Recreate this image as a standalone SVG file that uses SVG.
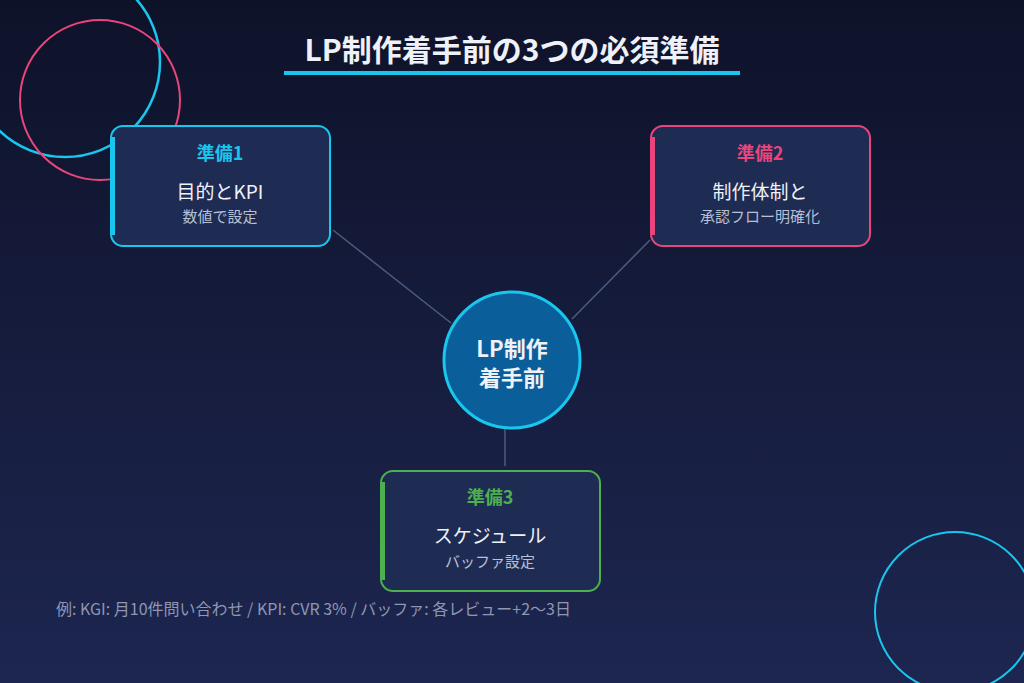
<svg xmlns="http://www.w3.org/2000/svg" width="1024" height="683" viewBox="0 0 1024 683">
<defs>
<linearGradient id="bg" x1="0" y1="0" x2="0" y2="1"><stop offset="0" stop-color="#0e1229"/><stop offset="1" stop-color="#1d2650"/></linearGradient>
<style>
text{font-family:"Noto Sans CJK JP","Noto Sans",sans-serif;text-anchor:middle}
.box{fill:#1e2b52;stroke-width:2}
.h{font-size:18px;font-weight:700}
.t{font-size:19px;fill:#eef1f8}
.s{font-size:15px;fill:#b8c0d6}
.ln{stroke:#4f5b7e;stroke-width:1.5}
</style>
</defs>
<rect width="1024" height="683" fill="url(#bg)"/>
<circle cx="65" cy="62" r="95" fill="none" stroke="#19c6ee" stroke-width="2.5"/>
<circle cx="100" cy="100" r="80" fill="none" stroke="#e8457c" stroke-width="2"/>
<circle cx="955" cy="612" r="80" fill="none" stroke="#19c6ee" stroke-width="2"/>
<text x="512" y="61" font-size="30" font-weight="700" fill="#eef1f8">LP制作着手前の3つの必須準備</text>
<rect x="284" y="71" width="456" height="4" fill="#19c6ee"/>
<g id="connectors">
<line class="ln" x1="333" y1="230" x2="451" y2="323"/>
<line class="ln" x1="650" y1="240" x2="572" y2="319"/>
<line class="ln" x1="505" y1="429" x2="505" y2="466"/>
</g>
<g id="center">
<circle cx="512" cy="360" r="68" fill="#0a5f9a" stroke="#19c6ee" stroke-width="3"/>
<text x="512" y="357" font-size="22" font-weight="700" fill="#eef1f8">LP制作</text>
<text x="512" y="386" font-size="22" font-weight="700" fill="#eef1f8">着手前</text>
</g>
<g id="node1">
<rect class="box" x="111" y="126" width="219" height="120" rx="12" stroke="#19c6ee"/>
<rect x="111" y="137" width="4" height="98" fill="#19c6ee"/>
<text class="h" x="220" y="160" fill="#19c6ee">準備1</text>
<text class="t" x="220" y="199">目的とKPI</text>
<text class="s" x="220" y="222">数値で設定</text>
</g>
<g id="node2">
<rect class="box" x="651" y="126" width="219" height="120" rx="12" stroke="#e8457c"/>
<rect x="651" y="137" width="4" height="98" fill="#e8457c"/>
<text class="h" x="760" y="160" fill="#e8457c">準備2</text>
<text class="t" x="760" y="199">制作体制と</text>
<text class="s" x="760" y="222">承認フロー明確化</text>
</g>
<g id="node3">
<rect class="box" x="381" y="471" width="219" height="120" rx="12" stroke="#4caf50"/>
<rect x="381" y="482" width="4" height="98" fill="#4caf50"/>
<text class="h" x="490" y="504" fill="#4caf50">準備3</text>
<text class="t" x="490" y="543">スケジュール</text>
<text class="s" x="490" y="567">バッファ設定</text>
</g>
<text x="56" y="615" font-size="16" fill="#8e97b3" style="text-anchor:start">例: KGI: 月10件問い合わせ  /  KPI: CVR 3%  /  バッファ: 各レビュー+2〜3日</text>
</svg>
